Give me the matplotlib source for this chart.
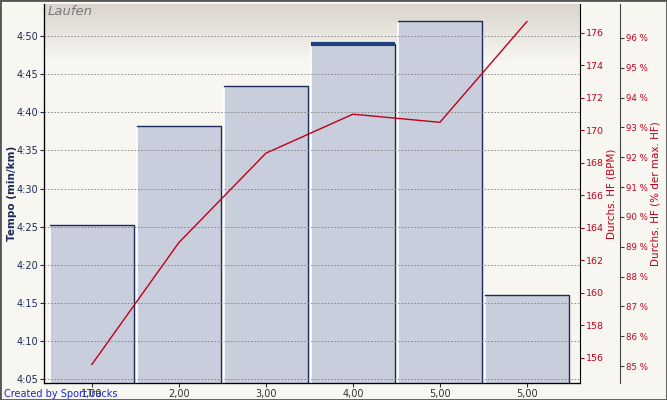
import numpy as np
import matplotlib.pyplot as plt
from matplotlib.ticker import FuncFormatter
from matplotlib.colors import LinearSegmentedColormap

# lap data
lap_labels = ['1,00', '2,00', '3,00', '4,00', '5,00', '5,00']
tempo_sec = [265.2, 278.2, 283.5, 289.0, 292.0, 256.0]     # seconds per km
hr_bpm = [155.6, 163.1, 168.6, 171.0, 170.5, 176.7]
tempo_ticks = [245, 250, 255, 260, 265, 270, 275, 280, 285, 290]
bpm_ticks = [156, 158, 160, 162, 164, 166, 168, 170, 172, 174, 176]
pct_ticks = [85, 86, 87, 88, 89, 90, 91, 92, 93, 94, 95, 96]

bg = '#f8f6f1'
navy = '#1c2b5a'
red = '#c0001a'

W, H = 667, 400
fig = plt.figure(figsize=(W / 100, H / 100), dpi=100, facecolor=bg)
ax = fig.add_axes([44 / W, 17 / H, 536 / W, 379 / H])
ax.set_facecolor(bg)

x = np.arange(len(tempo_sec))
base = 200
bw = 0.965

# gradient band at the top of the plot area
grad = np.linspace(0, 1, 100).reshape(-1, 1)
ax.imshow(grad, cmap=LinearSegmentedColormap.from_list('g', ['#d9d5cd', bg]),
          extent=[0, 1, 0.85, 1], aspect='auto', transform=ax.transAxes, zorder=0)

heights = [t - base for t in tempo_sec]
bars = ax.bar(x, heights, width=bw, bottom=base, color='#c8cedb',
              edgecolor='none', zorder=2)
for b, t in zip(bars, tempo_sec):
    x0, x1 = b.get_x(), b.get_x() + b.get_width()
    ax.plot([x0, x0], [base, t], color='white', lw=1.2, zorder=2.2)
    ax.plot([x0, x1, x1], [t, t, base], color=navy, lw=1.0, zorder=2.3)
# highlighted lap gets a thick top edge
b4 = bars[3]
ax.plot([b4.get_x(), b4.get_x() + b4.get_width()], [tempo_sec[3], tempo_sec[3]],
        color='#1f3f7a', lw=3, zorder=3, solid_capstyle='butt')

ax.set_xlim(-0.55, 5.61)
ax.set_ylim(244.5, 294.2)
ax.set_yticks(tempo_ticks)
ax.yaxis.set_major_formatter(FuncFormatter(lambda v, p: '%d:%02d' % (v // 60, v % 60)))
ax.set_xticks(x)
ax.set_xticklabels(lap_labels)
ax.set_axisbelow(False)
ax.grid(axis='y', linestyle=(0, (2, 2)), color='#808080', lw=0.6)
ax.tick_params(axis='y', labelsize=7, colors=navy, length=3, pad=1)
ax.tick_params(axis='x', labelsize=7, colors='#333333', length=3, pad=1)
ax.set_ylabel('Tempo (min/km)', fontsize=7.5, color=navy, fontweight='bold')
ax.yaxis.set_label_coords(-27 / 536, 0.5)
for s in ['top', 'right']:
    ax.spines[s].set_visible(False)
ax.spines['left'].set_color('black')
ax.spines['bottom'].set_color('black')
ax.text(0.006, 0.997, 'Laufen', transform=ax.transAxes, ha='left', va='top',
        fontsize=9.5, style='italic', color='#7a7a7a', zorder=5)

ax2 = ax.twinx()
ax2.plot(x, hr_bpm, color=red, lw=1.0, zorder=4)
ax2.set_ylim(154.46, 177.78)
ax2.set_yticks(bpm_ticks)
ax2.tick_params(axis='y', labelsize=6.8, colors=red, length=3, pad=1)
ax2.spines['right'].set_color('black')
ax2.spines['top'].set_visible(False)
ax2.set_ylabel('Durchs. HF (BPM)', fontsize=7.5, color=red)
ax2.yaxis.set_label_coords(562 / 536, 0.5)

ax3 = ax.twinx()
ax3.spines['right'].set_position(('axes', 576 / 536))
ax3.spines['right'].set_color('#444444')
ax3.spines['top'].set_visible(False)
ax3.set_ylim(84.43, 97.14)
ax3.set_yticks(pct_ticks)
ax3.yaxis.set_major_formatter(FuncFormatter(lambda v, p: '%d %%' % v))
ax3.tick_params(axis='y', labelsize=6.2, colors=red, length=3, pad=1)
ax3.tick_params(axis='y', which='both', color='#444444')
ax3.set_ylabel('Durchs. HF (% der max. HF)', fontsize=7.5, color=red)
ax3.yaxis.set_label_coords(606 / 536, 0.5)

fig.text(4 / W, 1 - 394 / H, 'Created by SportTracks', fontsize=7, color='#1a2ad0',
         ha='left', va='center')
# outer frame
fig.patches.append(plt.Rectangle((0, 0), 1, 1, transform=fig.transFigure, fill=False,
                                 edgecolor='#555555', lw=2))

fig.savefig('out.png', dpi=100, facecolor=bg)
